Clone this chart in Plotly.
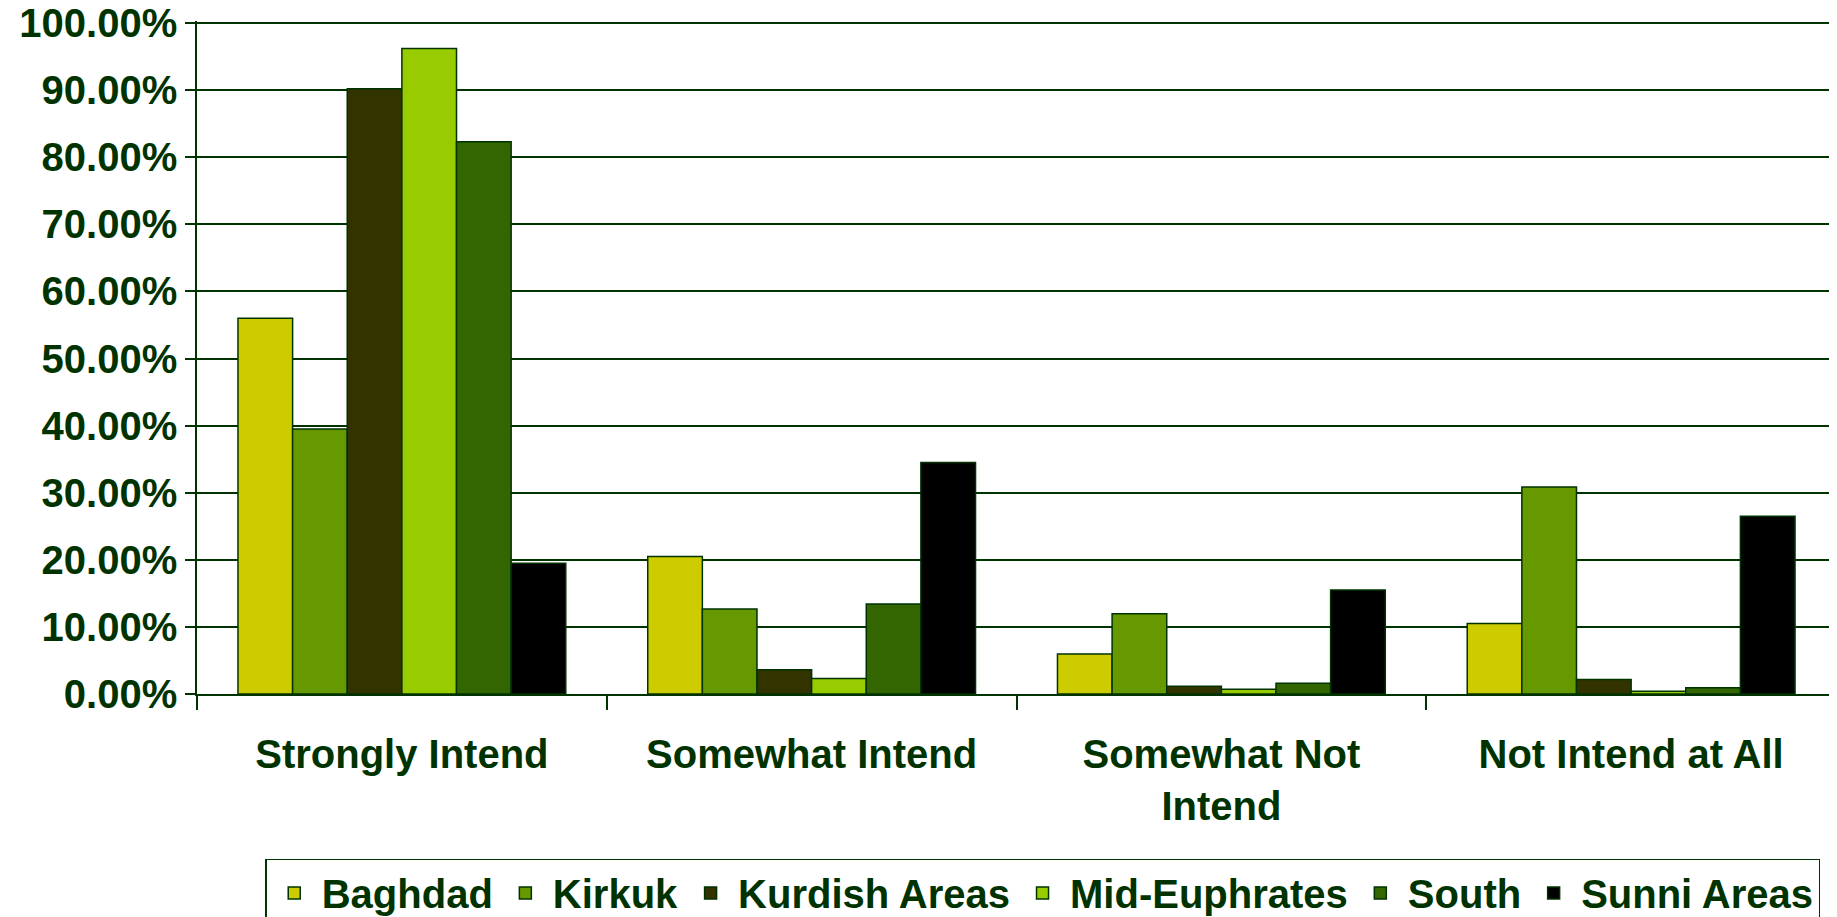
import plotly.graph_objects as go

categories = ["Strongly Intend", "Somewhat Intend", "Somewhat Not<br>Intend", "Not Intend at All"]
baghdad = [56.0, 20.5, 5.95, 10.5]
kirkuk = [39.5, 12.65, 11.95, 30.85]
kurdish = [90.2, 3.6, 1.15, 2.15]
mid_euphrates = [96.2, 2.3, 0.7, 0.4]
south = [82.3, 13.4, 1.6, 0.95]
sunni = [19.5, 34.5, 15.5, 26.5]

y_tick_vals = [0, 10, 20, 30, 40, 50, 60, 70, 80, 90, 100]
y_tick_text = ["0.00%", "10.00%", "20.00%", "30.00%", "40.00%", "50.00%",
               "60.00%", "70.00%", "80.00%", "90.00%", "100.00%"]

series = [
    ("Baghdad", baghdad, "#CCCC00"),
    ("Kirkuk", kirkuk, "#669900"),
    ("Kurdish Areas", kurdish, "#333300"),
    ("Mid-Euphrates", mid_euphrates, "#99CC00"),
    ("South", south, "#336600"),
    ("Sunni Areas", sunni, "#000000"),
]

TXT = "#003300"
fig = go.Figure()
for name, vals, col in series:
    fig.add_trace(go.Bar(
        x=categories, y=vals, name=name,
        marker=dict(color=col, line=dict(color="#003300", width=1.5)),
    ))

font = dict(family="Liberation Sans, Arial, sans-serif", size=40, color=TXT, weight="bold")

fig.update_layout(
    width=1829, height=909,
    margin=dict(l=189, r=1, t=13, b=223, autoexpand=False),
    barmode="group", bargap=0.2, bargroupgap=0,
    plot_bgcolor="white", paper_bgcolor="white",
    font=font,
    showlegend=True,
    legend=dict(
        orientation="h", x=0.516, xanchor="center", y=-0.245, yanchor="top",
        bordercolor="#003300", borderwidth=1.5, font=font,
        traceorder="normal", itemwidth=45,
    ),
    xaxis=dict(
        showline=True, linecolor="#003300", linewidth=1.5, automargin=False,
        ticks="outside", tickson="boundaries", ticklen=14, tickcolor="#003300", tickwidth=1.5,
        showgrid=False, ticklabelstandoff=24,
    ),
    yaxis=dict(
        range=[0, 100.3], tickmode="array", tickvals=y_tick_vals, ticktext=y_tick_text,
        automargin=False, ticklabeloverflow="allow",
        showline=True, linecolor="#003300", linewidth=1.5, mirror=True,
        ticks="outside", ticklen=10, tickcolor="#003300", tickwidth=1.5,
        showgrid=True, gridcolor="#003300", gridwidth=1.5,
        zeroline=False,
    ),
)

fig.write_html("out.html")
